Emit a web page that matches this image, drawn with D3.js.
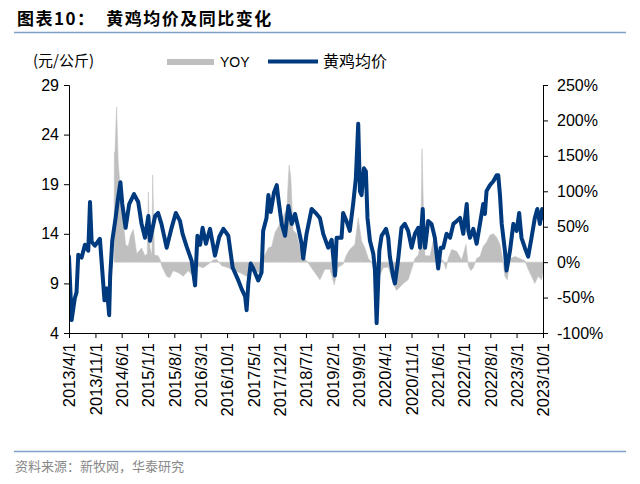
<!DOCTYPE html>
<html><head><meta charset="utf-8">
<script src="https://cdn.jsdelivr.net/npm/d3@7/dist/d3.min.js"></script>
<style>
body{margin:0;background:#fff;}
svg{display:block;}
</style></head>
<body>
<svg id="c" width="640" height="484"></svg>
<script>
const title = "图表10：  黄鸡均价及同比变化";
const source = "资料来源：新牧网，华泰研究";
const unitLabel = "(元/公斤)";
const seriesNames = ["YOY", "黄鸡均价"];
const leftTicks = [4, 9, 14, 19, 24, 29];
const rightTicks = [-1, -0.5, 0, 0.5, 1, 1.5, 2, 2.5];
const xTickLabels = ["2013/4/1","2013/11/1","2014/6/1","2015/1/1","2015/8/1","2016/3/1","2016/10/1","2017/5/1","2017/12/1","2018/7/1","2019/2/1","2019/9/1","2020/4/1","2020/11/1","2021/6/1","2022/1/1","2022/8/1","2023/3/1","2023/10/1"];

const priceDates = ["2013-04-01","2013-04-22","2013-05-18","2013-06-01","2013-06-15","2013-07-12","2013-08-08","2013-09-04","2013-09-18","2013-10-01","2013-10-28","2013-12-07","2013-12-28","2014-01-13","2014-02-01","2014-02-20","2014-02-28","2014-03-17","2014-04-13","2014-05-04","2014-05-22","2014-06-06","2014-07-03","2014-08-01","2014-09-09","2014-10-13","2014-11-09","2014-12-07","2015-01-03","2015-01-16","2015-02-27","2015-03-23","2015-04-19","2015-05-31","2015-07-10","2015-08-13","2015-09-16","2015-10-07","2015-11-09","2015-12-19","2016-01-16","2016-02-04","2016-02-26","2016-03-17","2016-04-13","2016-05-16","2016-06-25","2016-07-30","2016-09-01","2016-10-11","2016-11-15","2016-12-31","2017-01-28","2017-02-24","2017-03-08","2017-03-22","2017-04-10","2017-05-01","2017-06-10","2017-07-07","2017-07-20","2017-08-16","2017-08-31","2017-09-19","2017-10-16","2017-11-07","2017-11-20","2017-12-17","2018-01-13","2018-02-09","2018-03-08","2018-04-04","2018-04-30","2018-05-27","2018-06-09","2018-07-06","2018-08-16","2018-09-25","2018-10-22","2018-11-18","2018-12-28","2019-01-25","2019-02-21","2019-03-06","2019-04-15","2019-04-28","2019-05-25","2019-06-21","2019-07-18","2019-08-09","2019-08-28","2019-09-11","2019-09-24","2019-10-13","2019-10-29","2019-11-11","2019-12-01","2019-12-28","2020-01-10","2020-01-24","2020-02-15","2020-03-04","2020-04-09","2020-04-27","2020-05-10","2020-06-06","2020-06-20","2020-07-16","2020-08-12","2020-09-08","2020-10-05","2020-11-02","2020-11-29","2020-12-26","2021-01-09","2021-01-31","2021-02-06","2021-02-19","2021-03-16","2021-04-12","2021-05-09","2021-06-05","2021-06-25","2021-07-16","2021-08-12","2021-09-09","2021-10-06","2021-11-03","2021-11-29","2021-12-25","2022-01-22","2022-02-04","2022-02-17","2022-03-16","2022-04-12","2022-05-09","2022-06-04","2022-06-18","2022-07-01","2022-07-28","2022-08-25","2022-09-21","2022-10-04","2022-10-18","2022-11-01","2022-11-27","2022-12-10","2023-01-07","2023-02-03","2023-03-02","2023-03-22","2023-04-10","2023-05-07","2023-06-03","2023-06-30","2023-07-27","2023-08-16","2023-09-06","2023-09-24","2023-10-01"];
const priceValues = [11.7,5.3,7.5,8.1,11.9,11.6,12.9,12.3,17.2,13.2,12.8,13.5,10,7.3,8.5,5.8,9.7,13.3,15.6,17.7,19.2,17,14.6,17,18,17.2,15,13.6,15.8,13.3,15.8,16.1,15,12.6,14.6,16.1,15.3,14,12.7,11.3,8.8,13.8,12.9,14.6,13,14.5,11.8,13.7,14.5,13.8,10.6,9.3,8.4,7.7,6.3,9,11,10.5,9.3,10.1,14.3,15.6,17.9,16.2,18.2,18.9,17.5,15,13.8,16.8,15,16,14.6,13,11.5,14,16.5,16,15.6,14,12.6,13.4,9.8,13.6,13.6,16.1,15.3,14.3,17,19.6,25.1,18.3,17.9,20.6,20.3,15.6,13.3,12,10.4,5,12.3,13.8,14.5,13.6,11.7,9.7,9,11.4,14.6,15,14.3,12.6,14,14.6,12.6,16.5,14.3,12.6,15.3,15,13.6,10.5,12.6,12.6,14,13.6,15,15.3,15.6,14,17,14.3,13.6,14.5,13,15,17,16,18.3,18.9,19.3,19.9,19.9,17.9,15,12.3,10.3,12.3,15,14.3,16.1,13.6,12.6,11.7,13.6,15.6,16.5,15,16.5,15.6];

const yoyDates = ["2014-04-01","2014-04-03","2014-04-07","2014-04-21","2014-05-04","2014-05-18","2014-06-06","2014-07-03","2014-07-24","2014-08-12","2014-09-03","2014-10-01","2014-11-09","2014-12-07","2014-12-25","2015-01-03","2015-01-16","2015-02-01","2015-02-07","2015-02-21","2015-03-23","2015-04-12","2015-04-19","2015-05-31","2015-06-25","2015-07-22","2015-09-03","2015-10-12","2015-11-22","2016-01-01","2016-01-28","2016-03-22","2016-05-01","2016-06-12","2016-07-09","2016-08-18","2016-10-11","2016-11-21","2017-01-15","2017-03-08","2017-05-01","2017-06-25","2017-07-13","2017-08-03","2017-08-31","2017-09-27","2017-10-24","2017-11-20","2017-12-17","2018-01-13","2018-01-27","2018-02-15","2018-03-01","2018-03-19","2018-04-16","2018-05-13","2018-06-22","2018-07-06","2018-08-03","2018-09-12","2018-10-22","2018-12-01","2019-01-12","2019-02-15","2019-03-19","2019-04-28","2019-05-25","2019-06-21","2019-08-01","2019-08-28","2019-09-24","2019-10-21","2019-11-18","2019-12-15","2020-01-03","2020-01-24","2020-02-15","2020-03-18","2020-04-27","2020-06-06","2020-07-03","2020-07-31","2020-08-27","2020-10-05","2020-11-02","2020-11-29","2020-12-26","2021-01-15","2021-01-25","2021-02-12","2021-02-19","2021-04-01","2021-04-25","2021-05-22","2021-06-19","2021-07-16","2021-08-07","2021-08-25","2021-09-22","2021-11-03","2021-12-12","2022-01-16","2022-02-04","2022-02-24","2022-03-16","2022-04-12","2022-05-09","2022-06-04","2022-07-01","2022-07-28","2022-08-25","2022-09-21","2022-10-18","2022-11-08","2022-11-27","2022-12-16","2023-01-07","2023-02-18","2023-03-28","2023-05-07","2023-06-03","2023-06-30","2023-07-27","2023-08-22","2023-09-19","2023-10-01"];
const yoyValues = [0,1.55,1.5,2.19,1.41,1.09,0.7,0.25,0.22,0.38,0.46,0.12,0.2,0.09,0.12,0.99,0.2,0.1,1.23,0.1,0.09,0.02,-0.05,-0.2,-0.22,-0.12,-0.15,-0.2,-0.12,-0.2,-0.05,-0.08,-0.03,0.03,0.04,-0.05,-0.08,-0.12,-0.15,-0.2,-0.12,-0.15,0.05,0.1,0.2,0.22,0.42,0.5,0.6,0.7,0.75,1.37,1.18,0.45,0.4,0.2,0.05,0.02,-0.05,-0.15,-0.25,-0.1,-0.1,-0.32,-0.07,-0.03,0.1,0.18,0.25,0.62,0.3,0.2,0.05,0,-0.12,-0.3,-0.2,-0.08,-0.07,-0.3,-0.4,-0.35,-0.3,-0.25,-0.1,0.05,0.1,0.25,1.6,0.25,0.09,0.09,0.3,0.25,0.05,0.02,-0.1,0.05,0.18,0.15,0.03,0.25,-0.05,-0.12,-0.08,0.05,0.08,0.22,0.28,0.38,0.4,0.35,0.25,0.05,-0.2,-0.25,0.05,0.08,0.05,0.02,-0.1,-0.2,-0.3,-0.2,-0.25,-0.15];

const parse = d3.timeParse("%Y-%m-%d");
const price = priceDates.map((d,i)=>({date:parse(d), v:priceValues[i]}));
const yoy = yoyDates.map((d,i)=>({date:parse(d), v:yoyValues[i]}));
const tickDates = xTickLabels.map(s=>d3.timeParse("%Y/%m/%d")(s));

const svg = d3.select("#c");
const L = 69, R = 543, T = 85, B = 333;
const CJK = "'Noto Sans CJK SC','Noto Sans',sans-serif";
const LAT = "'Liberation Sans',Arial,sans-serif";

const x = d3.scaleTime().domain([tickDates[0], tickDates[tickDates.length-1]]).range([L, R]);
const yL = d3.scaleLinear().domain([4, 29]).range([B, T]);
const yR = d3.scaleLinear().domain([-1, 2.5]).range([B, T]);

// title
svg.append("text").attr("x",17).attr("y",25).attr("font-family",CJK).attr("font-weight","bold")
  .attr("font-size",17).attr("letter-spacing",1.5).attr("fill","#000").attr("xml:space","preserve").style("white-space","pre").text(title);
svg.append("line").attr("x1",14).attr("x2",626).attr("y1",32.5).attr("y2",32.5).attr("stroke","#7f9fcb").attr("stroke-width",1.5);

// unit + legend
svg.append("text").attr("x",33).attr("y",66).attr("font-family",CJK).attr("font-size",15).attr("fill","#000").text(unitLabel);
svg.append("rect").attr("x",167).attr("y",59).attr("width",47).attr("height",6).attr("fill","#bfbfbf");
svg.append("text").attr("x",220).attr("y",67).attr("font-family",LAT).attr("font-size",14).attr("fill","#000").text(seriesNames[0]);
svg.append("line").attr("x1",268).attr("x2",318).attr("y1",61.5).attr("y2",61.5).attr("stroke","#003a7e").attr("stroke-width",4);
svg.append("text").attr("x",323).attr("y",67).attr("font-family",CJK).attr("font-size",16).attr("fill","#000").text(seriesNames[1]);

// clip
svg.append("clipPath").attr("id","clip").append("rect").attr("x",L).attr("y",T-5).attr("width",R-L).attr("height",B-T+5);
const g = svg.append("g").attr("clip-path","url(#clip)");

// YOY area
g.append("path").datum(yoy)
  .attr("d", d3.area().x(d=>x(d.date)).y0(yR(0)).y1(d=>yR(d.v)))
  .attr("fill","#bfbfbf").attr("stroke","#c4c4c4").attr("stroke-width",0.6);

// price line
g.append("path").datum(price)
  .attr("d", d3.line().x(d=>x(d.date)).y(d=>yL(d.v)))
  .attr("fill","none").attr("stroke","#003a7e").attr("stroke-width",4).attr("stroke-linejoin","round").attr("stroke-linecap","round");

// axes
const axL = svg.append("g").attr("transform",`translate(${L},0)`)
  .call(d3.axisLeft(yL).tickValues(leftTicks).tickSize(5).tickPadding(5).tickFormat(d3.format("d")));
const axR = svg.append("g").attr("transform",`translate(${R},0)`)
  .call(d3.axisRight(yR).tickValues(rightTicks).tickSize(5).tickPadding(9).tickFormat(d=>Math.round(d*100)+"%"));
const axB = svg.append("g").attr("transform",`translate(0,${B})`)
  .call(d3.axisBottom(x).tickValues(tickDates).tickSize(5).tickFormat((d,i)=>xTickLabels[i]));
[axL,axR,axB].forEach(a=>{
  a.select(".domain").attr("stroke","#000").attr("stroke-width",1);
  a.selectAll(".tick line").attr("stroke","#000");
  a.selectAll("text").attr("font-family",LAT).attr("font-size",16).attr("fill","#000");
});
axB.selectAll(".tick text").attr("text-anchor","end").attr("dy","0.35em")
  .attr("transform","translate(0,0) rotate(-90)").attr("x",-10).attr("y",0).attr("font-size",16.5);

// bottom rule + source
svg.append("line").attr("x1",14).attr("x2",626).attr("y1",451.5).attr("y2",451.5).attr("stroke","#7f9fcb").attr("stroke-width",1.5);
svg.append("text").attr("x",15).attr("y",471).attr("font-family",CJK).attr("font-size",13).attr("fill","#888").text(source);
</script>
</body></html>
